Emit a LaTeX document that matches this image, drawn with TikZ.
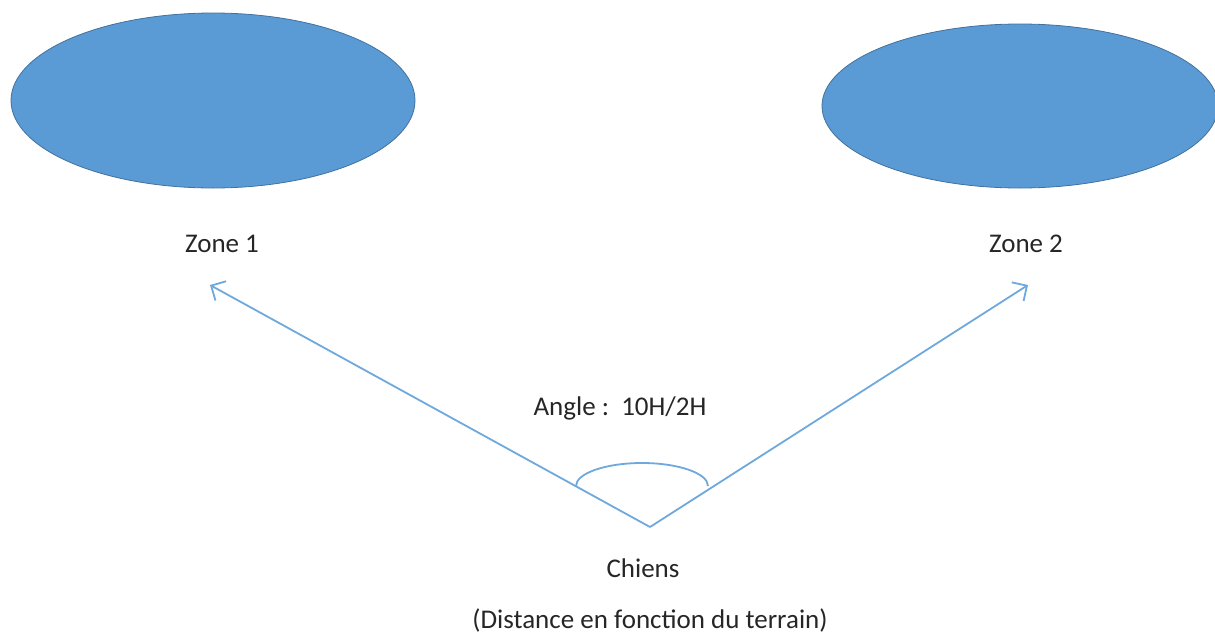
\documentclass[tikz,border=0pt]{standalone}
\usepackage{fontspec}
\setmainfont{Carlito}
\usetikzlibrary{arrows.meta}
\definecolor{zonefill}{HTML}{5B9BD5}
\definecolor{zoneedge}{HTML}{41719C}
\definecolor{linecol}{HTML}{6FA8DC}
\begin{document}
\begin{tikzpicture}[x=1pt,y=-1pt,
  zone/.style={fill=zonefill,draw=zoneedge,line width=0.8pt},
  lbl/.style={font=\fontsize{27}{31}\selectfont,text=black!85,inner sep=0pt},
  conn/.style={draw=linecol,line width=1.8pt,-{Straight Barb[length=11pt,width=22pt,line width=1.8pt]}}]
\useasboundingbox (0,0) rectangle (1215,635);
\begin{scope}
\clip (0,0) rectangle (1215,635);
\fill[zone] (213,100.5) ellipse [x radius=202, y radius=87.5];
\fill[zone] (1020,106) ellipse [x radius=198, y radius=82];
\end{scope}
\node[lbl] (z1) at (222,244) {Zone 1};
\node[lbl] (z2) at (1026,244) {Zone 2};
\node[lbl] (ang) at (620,408) {Angle :\ \ 10H/2H};
\node[lbl] (ch) at (643,568) {Chiens};
\node[lbl] (dist) at (650,620) {(Distance en fonction du terrain)};
\coordinate (apex) at (650,527);
\coordinate (t1) at (210,285);
\coordinate (t2) at (1028,285);
\draw[conn] (apex) -- (t1);
\draw[conn] (apex) -- (t2);
\draw[draw=linecol,line width=1.8pt] (576,486) arc[start angle=180,end angle=360,x radius=66,y radius=23];
\end{tikzpicture}
\end{document}
